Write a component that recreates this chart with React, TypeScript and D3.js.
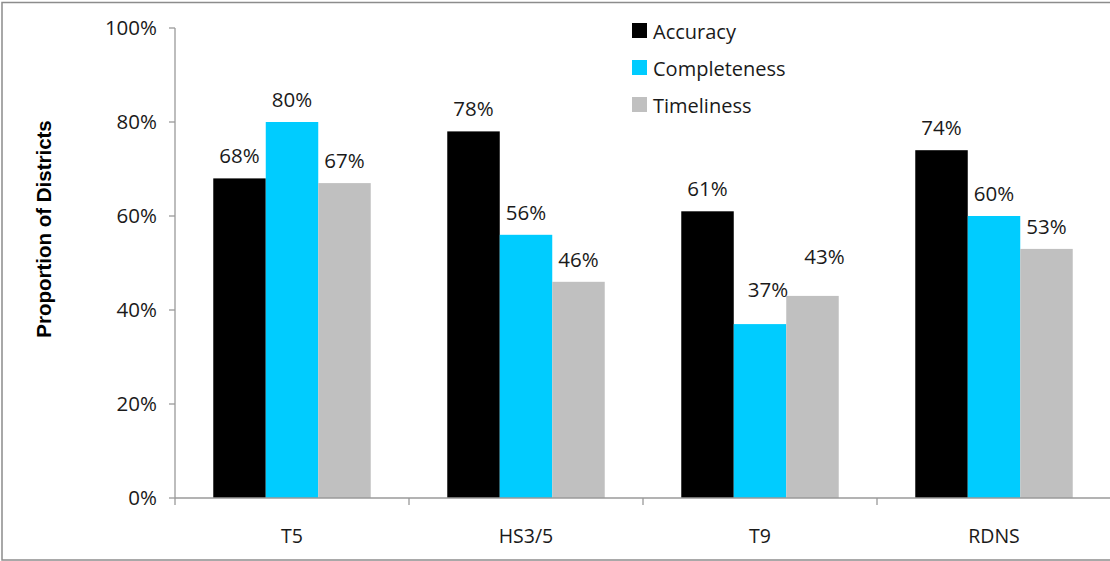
import React from "react";
import * as d3 from "d3";

// Data-quality indicators by reporting form
const categories = ["T5", "HS3/5", "T9", "RDNS"];
const seriesNames = ["Accuracy", "Completeness", "Timeliness"];
const accuracy = [68, 78, 61, 74];
const completeness = [80, 56, 37, 60];
const timeliness = [67, 46, 43, 53];
const yTicks = [0, 20, 40, 60, 80, 100];

const seriesValues = [accuracy, completeness, timeliness];
const seriesColors = ["#000000", "#00CCFF", "#C0C0C0"];

// manual nudges for labels that would collide in the T9 group
const labelNudge: Record<string, [number, number]> = {
  "T9|Completeness": [8, -12],
  "T9|Timeliness": [12, -17],
};

const W = 1110;
const H = 561;
const left = 175;
const right = 1111;
const top = 28;
const bottom = 498;
const font = "'Open Sans', sans-serif";

export default function App() {
  const x0 = d3.scaleBand<string>().domain(categories).range([left, right]).padding(0);
  const x1 = d3
    .scaleBand<string>()
    .domain(seriesNames)
    .range([0, x0.bandwidth()])
    .paddingInner(0)
    .paddingOuter(0.729);
  const y = d3.scaleLinear().domain([0, 100]).range([bottom, top]);

  return (
    <svg
      width={W}
      height={H}
      style={{ position: "absolute", left: 0, top: 0, background: "#fff" }}
      fontFamily={font}
    >
      <rect x={2} y={2.5} width={W + 10} height={557.5} fill="#fff" stroke="#8c8c8c" strokeWidth={1.5} />

      {/* bars */}
      {categories.map((c, ci) =>
        seriesNames.map((s, si) => {
          const v = seriesValues[si][ci];
          const bx = (x0(c) as number) + (x1(s) as number);
          return (
            <rect
              key={c + s}
              x={bx}
              y={y(v)}
              width={x1.bandwidth()}
              height={bottom - y(v)}
              fill={seriesColors[si]}
            />
          );
        })
      )}

      {/* value labels */}
      {categories.map((c, ci) =>
        seriesNames.map((s, si) => {
          const v = seriesValues[si][ci];
          const [dx, dy] = labelNudge[c + "|" + s] || [0, 0];
          const cx = (x0(c) as number) + (x1(s) as number) + x1.bandwidth() / 2;
          return (
            <text
              key={"l" + c + s}
              x={cx + dx}
              y={y(v) - 15 + dy}
              textAnchor="middle"
              fontSize={20.5}
              fill="#1a1a1a"
            >
              {v}%
            </text>
          );
        })
      )}

      {/* y axis */}
      <line x1={left} x2={left} y1={top} y2={bottom} stroke="#9a9a9a" strokeWidth={1.3} />
      {yTicks.map((t) => (
        <g key={t}>
          <line x1={left - 6} x2={left} y1={y(t)} y2={y(t)} stroke="#9a9a9a" strokeWidth={1.3} />
          <text x={157} y={y(t) + 7} textAnchor="end" fontSize={20.5} fill="#1a1a1a">
            {t}%
          </text>
        </g>
      ))}

      {/* x axis */}
      <line x1={left} x2={right} y1={bottom} y2={bottom} stroke="#9a9a9a" strokeWidth={1.3} />
      {categories.map((c) => (
        <g key={"x" + c}>
          <line
            x1={x0(c) as number}
            x2={x0(c) as number}
            y1={bottom}
            y2={bottom + 7}
            stroke="#9a9a9a"
            strokeWidth={1.3}
          />
          <text
            x={(x0(c) as number) + x0.bandwidth() / 2}
            y={543}
            textAnchor="middle"
            fontSize={19.5}
            fill="#1a1a1a"
          >
            {c}
          </text>
        </g>
      ))}

      {/* y axis title */}
      <text
        transform="translate(51,229) rotate(-90)"
        textAnchor="middle"
        fontSize={20.5}
        fontWeight="bold"
        fontFamily="'Liberation Sans', Arial, sans-serif"
        fill="#000"
      >
        Proportion of Districts
      </text>

      {/* legend */}
      {seriesNames.map((s, i) => (
        <g key={"lg" + s} transform={`translate(632,${23 + i * 37})`}>
          <rect x={0} y={0} width={15} height={15} fill={seriesColors[i]} />
          <text x={21} y={15.5} fontSize={20} fill="#1a1a1a">
            {s}
          </text>
        </g>
      ))}
    </svg>
  );
}
